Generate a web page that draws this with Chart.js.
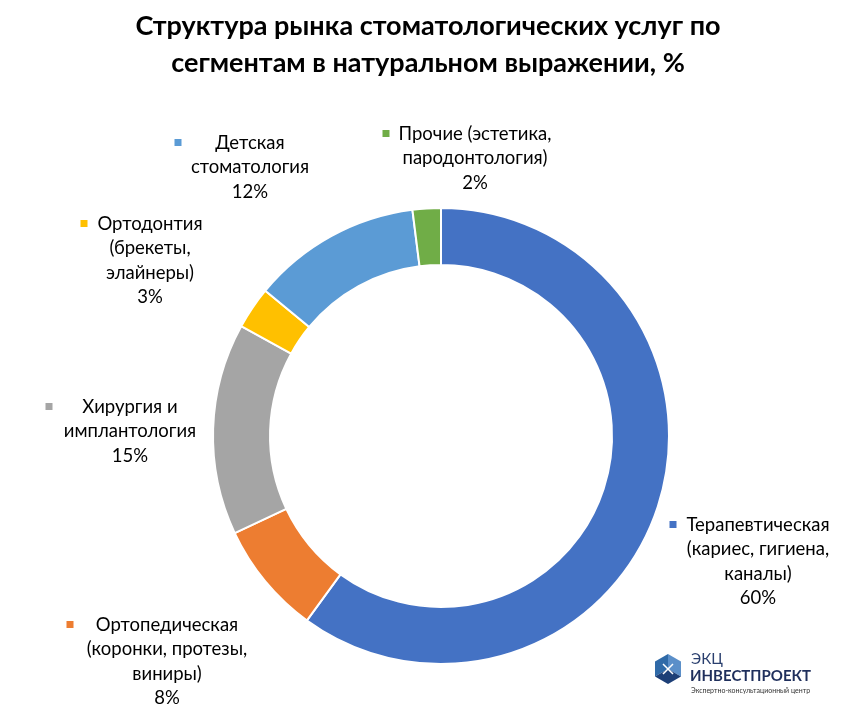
<!DOCTYPE html>
<html>
<head>
<meta charset="utf-8">
<script src="https://cdn.jsdelivr.net/npm/chart.js@4.4.1/dist/chart.umd.min.js"></script>
<style>
html,body{margin:0;padding:0;background:#fff;}
#wrap{position:relative;width:853px;height:720px;}
</style>
</head>
<body>
<div id="wrap"><canvas id="c" width="853" height="720"></canvas></div>
<script>
// ---- data ----
const categories = [
  "Терапевтическая (кариес, гигиена, каналы)",
  "Ортопедическая (коронки, протезы, виниры)",
  "Хирургия и имплантология",
  "Ортодонтия (брекеты, элайнеры)",
  "Детская стоматология",
  "Прочие (эстетика, пародонтология)"
];
const shares = [60, 8, 15, 3, 12, 2];
const labelLines = [
  ["Терапевтическая", "(кариес, гигиена,", "каналы)"],
  ["Ортопедическая", "(коронки, протезы,", "виниры)"],
  ["Хирургия и", "имплантология"],
  ["Ортодонтия", "(брекеты,", "элайнеры)"],
  ["Детская", "стоматология"],
  ["Прочие (эстетика,", "пародонтология)"]
];
const titleLines = ["Структура рынка стоматологических услуг по", "сегментам в натуральном выражении, %"];

// ---- styles / layout ----
const colors = ["#4472C4", "#ED7D31", "#A5A5A5", "#FFC000", "#5B9BD5", "#70AD47"];
// label block: center x, first baseline y, marker x
const labelPos = [
  {x: 758, y: 531, mx: 673},
  {x: 167, y: 631, mx: 70},
  {x: 130, y: 413, mx: 49},
  {x: 150, y: 230, mx: 84},
  {x: 250, y: 149, mx: 178},
  {x: 475, y: 140, mx: 386}
];
const FONT = "Lato, 'Open Sans', 'DejaVu Sans', sans-serif";

const labelPlugin = {
  id: 'outLabels',
  afterDraw(chart) {
    const ctx = chart.ctx;
    ctx.save();
    // title
    ctx.fillStyle = '#000';
    ctx.font = "bold 27px " + FONT;
    ctx.textAlign = 'center';
    ctx.textBaseline = 'alphabetic';
    ctx.fillText(titleLines[0], 428, 35);
    ctx.fillText(titleLines[1], 428, 72);

    const meta = chart.getDatasetMeta(0);
    ctx.font = "18.5px " + FONT;
    meta.data.forEach((arc, i) => {
      const p = labelPos[i];
      const lines = labelLines[i].concat([shares[i] + "%"]);
      ctx.fillStyle = '#000';
      lines.forEach((ln, k) => {
        ctx.fillText(ln, p.x, p.y + k * 24.3);
      });
      ctx.fillStyle = colors[i];
      ctx.fillRect(p.mx - 3.5, p.y - 10, 7, 7);
    });

    // logo
    const cx = 668, cy = 669, s = 15;
    const hex = (r) => { const pts = []; for (let k = 0; k < 6; k++) { const a = Math.PI / 6 + k * Math.PI / 3; pts.push([cx + r * Math.cos(a), cy + r * Math.sin(a)]); } return pts; };
    const h = hex(s);
    ctx.beginPath(); ctx.moveTo(cx, cy); ctx.lineTo(h[4][0], h[4][1]); ctx.lineTo(h[5][0], h[5][1]); ctx.lineTo(h[0][0], h[0][1]); ctx.closePath(); ctx.fillStyle = '#5b8fc9'; ctx.fill();
    ctx.beginPath(); ctx.moveTo(cx, cy); ctx.lineTo(h[2][0], h[2][1]); ctx.lineTo(h[3][0], h[3][1]); ctx.lineTo(h[4][0], h[4][1]); ctx.closePath(); ctx.fillStyle = '#2f6aa8'; ctx.fill();
    ctx.beginPath(); ctx.moveTo(cx, cy); ctx.lineTo(h[0][0], h[0][1]); ctx.lineTo(h[1][0], h[1][1]); ctx.lineTo(h[2][0], h[2][1]); ctx.closePath(); ctx.fillStyle = '#1d3f77'; ctx.fill();
    ctx.strokeStyle = '#fff'; ctx.lineWidth = 1.5;
    ctx.beginPath(); ctx.moveTo(cx - 5, cy - 5); ctx.lineTo(cx + 5, cy + 5); ctx.moveTo(cx + 5, cy - 5); ctx.lineTo(cx - 5, cy + 5); ctx.stroke();
    ctx.textAlign = 'left';
    ctx.fillStyle = '#2a3f6e';
    ctx.font = "15px " + FONT;
    ctx.fillText("ЭКЦ", 691, 664);
    ctx.font = "bold 15px " + FONT;
    ctx.fillStyle = '#1f2f5c';
    ctx.fillText("ИНВЕСТПРОЕКТ", 690, 681);
    ctx.font = "7px " + FONT;
    ctx.fillStyle = '#333';
    ctx.fillText("Экспертно-консультационный центр", 691, 693);
    ctx.restore();
  }
};

new Chart(document.getElementById('c'), {
  type: 'doughnut',
  data: {
    labels: categories,
    datasets: [{
      data: shares,
      backgroundColor: colors,
      borderColor: '#ffffff',
      borderWidth: 2
    }]
  },
  options: {
    responsive: false,
    animation: false,
    cutout: '75%',
    layout: { padding: { left: 212, right: 183, top: 205, bottom: 53 } },
    plugins: { legend: { display: false }, tooltip: { enabled: false }, title: { display: false } }
  },
  plugins: [labelPlugin]
});
</script>
</body>
</html>
